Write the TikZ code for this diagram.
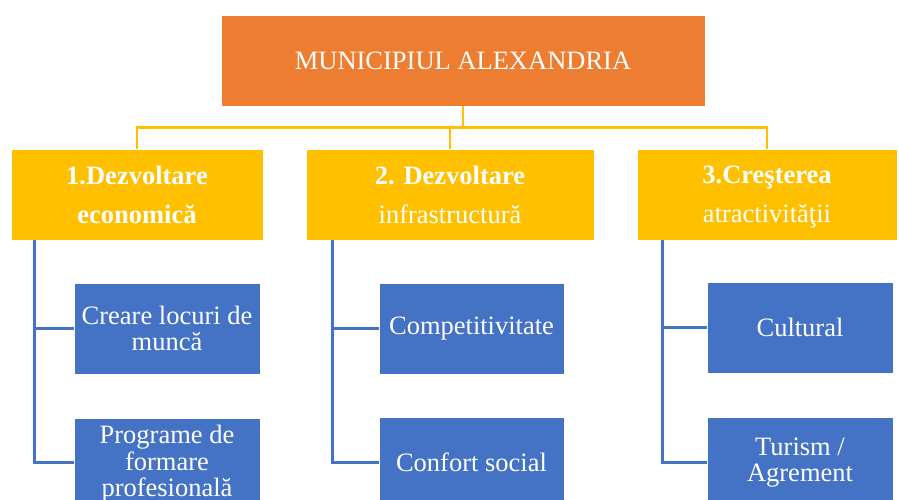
\documentclass[tikz,border=0pt]{standalone}
\usepackage{fontspec}
\setmainfont{Liberation Serif}
\usetikzlibrary{calc}
\definecolor{orgC}{HTML}{ED7D31}
\definecolor{yelC}{HTML}{FFC000}
\definecolor{bluC}{HTML}{4472C4}
\tikzset{
  box/.style={draw=white, line width=0.8pt, text=white, inner sep=0pt, align=center, anchor=center},
  topbox/.style={box, fill=orgC, minimum width=484pt, minimum height=91pt, font=\fontsize{26.5}{30}\selectfont},
  lvlbox/.style={box, fill=yelC, minimum height=91pt, font=\fontsize{26.5}{39}\selectfont},
  leafbox/.style={box, fill=bluC, minimum width=186pt, minimum height=91pt, font=\fontsize{26.5}{26.5}\selectfont},
  yline/.style={draw=yelC, line width=2.6pt},
  bline/.style={draw=bluC, line width=2.6pt},
}
\begin{document}
\begin{tikzpicture}[x=1pt, y=-1pt]
\useasboundingbox[fill=white] (0,0) rectangle (899,499);
\node[topbox] (top) at (463,60.5) {MUNICIPIUL ALEXANDRIA};
\node[lvlbox, minimum width=252pt] (l1) at (137,194.5) {\textbf{1.Dezvoltare}\\\textbf{economică}};
\node[lvlbox, minimum width=288pt] (l2) at (450,194.5) {\textbf{2. Dezvoltare}\\infrastructură};
\node[lvlbox, minimum width=260pt] (l3) at (767,194.5) {\textbf{3.Cre\smash{ş}terea}\\atractivită\smash{ţ}ii};
\node[leafbox] (c11) at (167,328.5) {Creare locuri de\\muncă};
\node[leafbox] (c12) at (167,464) {Programe de\\formare\\profesională};
\node[leafbox, minimum width=185pt] (c21) at (471.5,328.5) {Competitivitate};
\node[leafbox, minimum width=185pt] (c22) at (471.5,462.5) {Confort social};
\node[leafbox] (c31) at (800,327.5) {Cultural};
\node[leafbox] (c32) at (800,462.5) {Turism /\\Agrement};
\coordinate (bus) at ($(top.south)+(0,21)$);
\draw[yline] (top.south) -- (bus);
\draw[yline] (bus) -| (l1.north);
\draw[yline] (bus) -| (l3.north);
\draw[yline] (bus -| l2.north) -- (l2.north);
\coordinate (s1) at ($(l1.south west)+(24,0)$);
\coordinate (s2) at ($(l2.south west)+(27,0)$);
\coordinate (s3) at ($(l3.south west)+(26,0)$);
\draw[bline] (s1) |- (c22.west -| s1) -- (c12.west |- c22.west);
\draw[bline] (s1 |- c11.west) -- (c11.west);
\draw[bline] (s2) |- (c22.west);
\draw[bline] (s2 |- c21.west) -- (c21.west);
\draw[bline] (s3) |- (c32.west);
\draw[bline] (s3 |- c31.west) -- (c31.west);
\end{tikzpicture}
\end{document}
